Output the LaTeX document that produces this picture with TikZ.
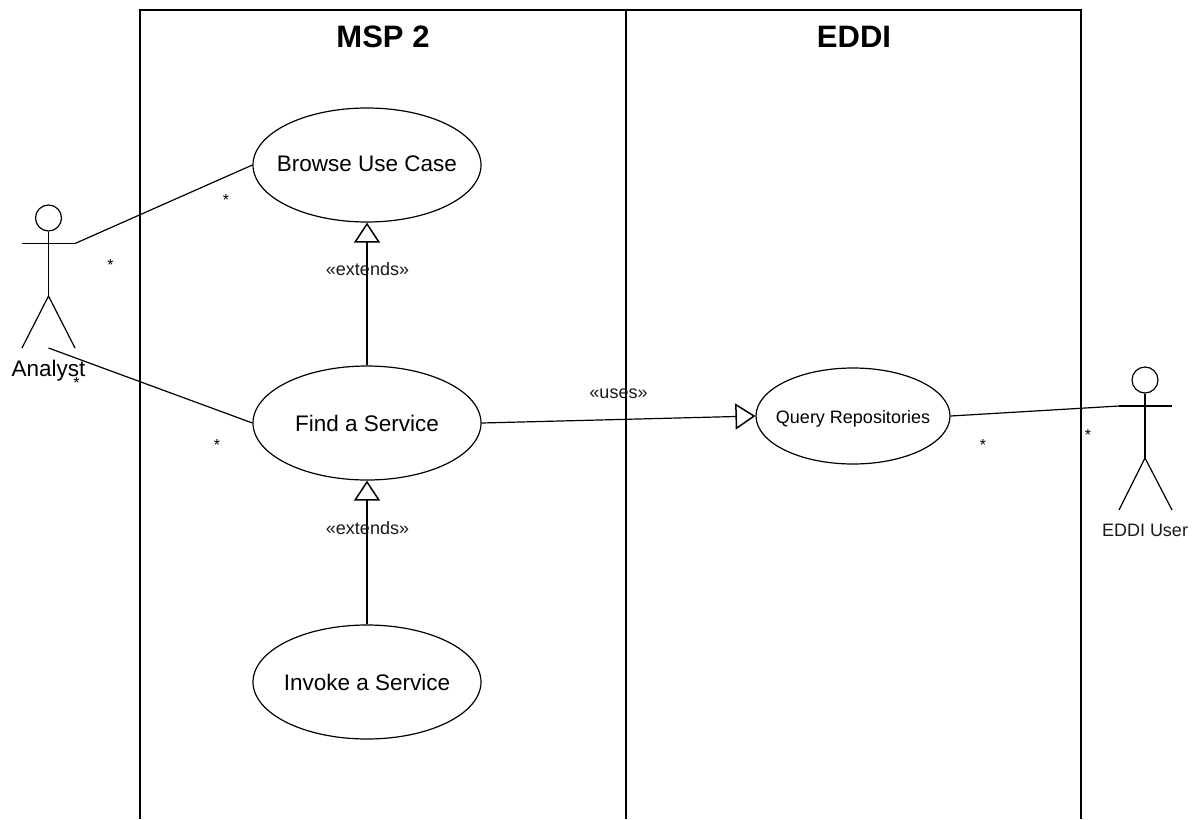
\documentclass[tikz,border=0pt]{standalone}
\usepackage{fontspec}
\setmainfont{Liberation Sans}
\usetikzlibrary{shapes.geometric,arrows.meta}
\newcommand{\uctext}[2]{\raisebox{#1}[0pt][0pt]{\makebox[0pt]{#2}}}
\tikzset{
  lane/.style={line width=2pt,black},
  conn/.style={line width=1.2pt,black},
  usecase/.style={ellipse,draw,line width=1.2pt,inner sep=0pt,minimum width=228pt,minimum height=114pt,font=\fontsize{22.5}{26}\selectfont},
  smallcase/.style={usecase,minimum width=194pt,minimum height=96pt,font=\fontsize{18}{22}\selectfont},
  tri/.style={-{Triangle[open,length=20pt,width=26pt,line width=1.5pt]}},
  lab/.style={inner sep=0pt,font=\fontsize{18}{22}\selectfont,text=black!90},
  bigtitle/.style={inner sep=0pt,font=\bfseries\fontsize{31}{34}\selectfont},
  star/.style={inner sep=0pt,font=\fontsize{16}{18}\selectfont},
  head/.style={circle,draw,line width=1.2pt,minimum size=26pt,inner sep=0pt}
}
\begin{document}
\begin{tikzpicture}[x=1pt,y=-1pt]
\useasboundingbox (0,0) rectangle (1198,819);
% swimlanes
\coordinate (tl) at (140,10);
\coordinate (tm) at (626,10);
\coordinate (tr) at (1081,10);
\coordinate (bl) at (140,819);
\coordinate (bm) at (626,819);
\coordinate (br) at (1081,819);
\draw[lane] (bl) -- (tl) -- (tr) -- (br);
\draw[lane] (tm) -- (bm);
\node[bigtitle] (msp) at (383,37) {MSP 2};
\node[bigtitle] (eddi) at (854,37) {EDDI};
% use cases
\node[usecase] (browse) at (367,165) {\uctext{-6.5pt}{Browse Use Case}};
\node[usecase] (find) at (367,423) {\uctext{-8pt}{Find a Service}};
\node[usecase] (invoke) at (367,682) {\uctext{-8pt}{Invoke a Service}};
\node[smallcase] (query) at (853,416) {\uctext{-7pt}{Query Repositories}};
% Analyst actor
\node[head] (ahead) at (48.5,218) {};
\coordinate (aarmL) at (22,243.5);
\coordinate (aarmR) at (75,243.5);
\coordinate (ahip) at (48.5,296);
\coordinate (alegL) at (22,348);
\coordinate (alegR) at (75,348);
\coordinate (afoot) at (48.5,348);
\draw[conn] (ahead.south) -- (ahip);
\draw[conn] (aarmL) -- (aarmR);
\draw[conn] (alegL) -- (ahip) -- (alegR);
\node[inner sep=0pt,font=\fontsize{22.5}{26}\selectfont] (analyst) at (48.5,371) {Analyst};
% EDDI user actor
\node[head] (ehead) at (1145,380) {};
\coordinate (earmL) at (1119,406);
\coordinate (earmR) at (1172,406);
\coordinate (ehip) at (1145,458);
\coordinate (elegL) at (1119,510);
\coordinate (elegR) at (1172,510);
\draw[conn] (ehead.south) -- (ehip);
\draw[conn] (earmL) -- (earmR);
\draw[conn] (elegL) -- (ehip) -- (elegR);
\node[lab] (euser) at (1145,530) {EDDI User};
% connectors
\draw[conn] (aarmR) -- (browse.west);
\draw[conn] (afoot) -- (find.west);
\draw[conn] (query.east) -- (earmL);
\draw[conn,tri] (find.north) -- (browse.south);
\draw[conn,tri] (invoke.north) -- (find.south);
\draw[conn,tri] (find.east) -- (query.west);
% labels
\node[lab] (ext1) at (367.5,269) {«extends»};
\node[lab] (ext2) at (367.5,528) {«extends»};
\node[lab] (uses) at (618.5,394) {«uses»};
\node[star] (s1) at (226,200) {*};
\node[star] (s2) at (110.5,265) {*};
\node[star] (s3) at (76.5,383) {*};
\node[star] (s4) at (217,445) {*};
\node[star] (s5) at (983,445) {*};
\node[star] (s6) at (1088,435) {*};
\end{tikzpicture}
\end{document}
